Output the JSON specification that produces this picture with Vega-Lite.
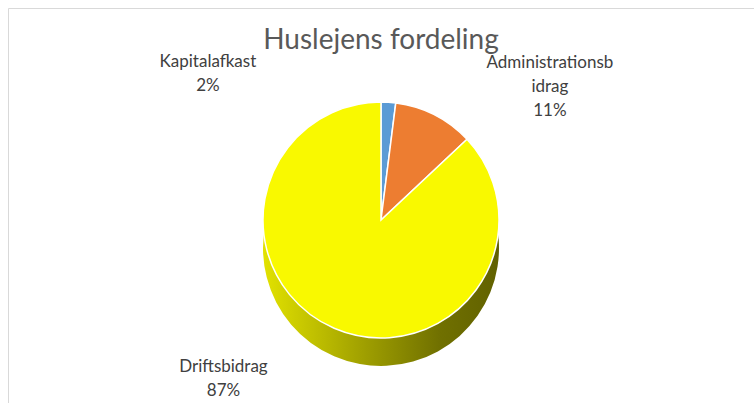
{
  "$schema": "https://vega.github.io/schema/vega-lite/v6.json",
  "width": 746,
  "height": 424,
  "autosize": "none",
  "padding": {"left": 8, "top": 8, "right": 0, "bottom": 0},
  "background": "white",
  "view": {"stroke": "#d9d9d9", "strokeWidth": 1},
  "config": {"view": {"stroke": "#d9d9d9", "strokeWidth": 1}},
  "title": {
    "text": "Huslejens fordeling",
    "font": "Lato",
    "fontSize": 28,
    "fontWeight": "normal",
    "color": "#595959",
    "anchor": "middle",
    "frame": "group",
    "baseline": "alphabetic",
    "offset": -44,
    "dy": 25
  },
  "data": {
    "values": [
      {"category": "Kapitalafkast", "label": "Kapitalafkast", "value": 2},
      {"category": "Administrationsbidrag", "label": "Administrationsb\nidrag", "value": 11},
      {"category": "Driftsbidrag", "label": "Driftsbidrag", "value": 87}
    ]
  },
  "transform": [
    {"window": [{"op": "row_number", "as": "idx"}]},
    {"window": [{"op": "sum", "field": "value", "as": "cum"}], "sort": [{"field": "idx"}], "frame": [null, 0]},
    {"calculate": "datum.cum - datum.value", "as": "start"},
    {"calculate": "datum.cum - datum.value / 2", "as": "mid"},
    {"calculate": "datum.label + '\\n' + datum.value + '%'", "as": "text"}
  ],
  "layer": [
    {
      "mark": {
        "type": "arc",
        "outerRadius": 118,
        "yOffset": 28,
        "color": {
          "gradient": "linear",
          "x1": 0, "y1": 0, "x2": 1, "y2": 0,
          "stops": [
            {"offset": 0, "color": "#e2e200"},
            {"offset": 0.45, "color": "#9c9c00"},
            {"offset": 0.75, "color": "#707000"},
            {"offset": 1, "color": "#616100"}
          ]
        }
      },
      "encoding": {
        "theta": {"field": "start", "type": "quantitative", "scale": {"domain": [0, 100]}},
        "theta2": {"field": "cum"}
      }
    },
    {
      "mark": {"type": "arc", "outerRadius": 118, "stroke": "white", "strokeWidth": 1.5},
      "encoding": {
        "theta": {"field": "start", "type": "quantitative", "scale": {"domain": [0, 100]}},
        "theta2": {"field": "cum"},
        "color": {
          "field": "category",
          "type": "nominal",
          "scale": {
            "domain": ["Kapitalafkast", "Administrationsbidrag", "Driftsbidrag"],
            "range": ["#5b9bd5", "#ed7d31", "#f9f900"]
          },
          "legend": null
        }
      }
    },
    {
      "transform": [{"filter": "datum.category == 'Kapitalafkast'"}],
      "mark": {"type": "text", "radius": 158, "dx": -183, "font": "Lato", "fontSize": 17, "color": "#404040", "lineBreak": "\n", "lineHeight": 24, "align": "center", "baseline": "middle"},
      "encoding": {
        "theta": {"field": "mid", "type": "quantitative", "scale": {"domain": [0, 100]}},
        "text": {"field": "text"}
      }
    },
    {
      "transform": [{"filter": "datum.category == 'Administrationsbidrag'"}],
      "mark": {"type": "text", "radius": 176, "dx": 89, "font": "Lato", "fontSize": 17, "color": "#404040", "lineBreak": "\n", "lineHeight": 24, "align": "center", "baseline": "middle"},
      "encoding": {
        "theta": {"field": "mid", "type": "quantitative", "scale": {"domain": [0, 100]}},
        "text": {"field": "text"}
      }
    },
    {
      "transform": [{"filter": "datum.category == 'Driftsbidrag'"}],
      "mark": {"type": "text", "radius": 160, "dx": -94, "font": "Lato", "fontSize": 17, "color": "#404040", "lineBreak": "\n", "lineHeight": 24, "align": "center", "baseline": "middle"},
      "encoding": {
        "theta": {"field": "mid", "type": "quantitative", "scale": {"domain": [0, 100]}},
        "text": {"field": "text"}
      }
    }
  ]
}
